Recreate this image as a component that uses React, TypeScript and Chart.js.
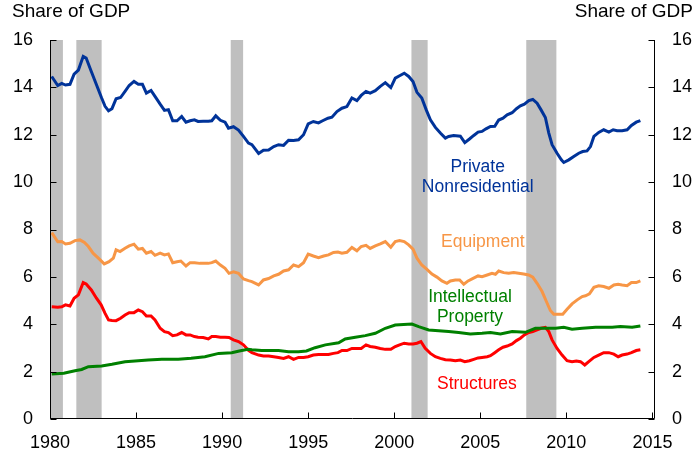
import React, { useEffect, useRef } from 'react';
import { Chart, registerables } from 'chart.js';

Chart.register(...registerables);

// ---- Data (share of GDP, %) ----
const pnrYears = [1980.1, 1980.45, 1980.68, 1980.9, 1981.16, 1981.4, 1981.65, 1981.93, 1982.1, 1982.4, 1982.7, 1983.0, 1983.2, 1983.4, 1983.6, 1983.84, 1984.1, 1984.36, 1984.6, 1984.88, 1985.13, 1985.37, 1985.6, 1985.87, 1986.1, 1986.4, 1986.65, 1986.88, 1987.13, 1987.38, 1987.65, 1987.9, 1988.14, 1988.39, 1988.6, 1988.9, 1989.2, 1989.4, 1989.63, 1989.9, 1990.17, 1990.37, 1990.66, 1990.95, 1991.24, 1991.53, 1991.73, 1992.12, 1992.4, 1992.7, 1993.0, 1993.28, 1993.57, 1993.86, 1994.15, 1994.44, 1994.73, 1995.0, 1995.3, 1995.6, 1995.84, 1996.15, 1996.38, 1996.67, 1996.96, 1997.25, 1997.54, 1997.83, 1998.08, 1998.36, 1998.6, 1998.9, 1999.19, 1999.48, 1999.8, 2000.06, 2000.31, 2000.58, 2000.84, 2001.09, 2001.32, 2001.6, 2001.86, 2002.1, 2002.39, 2002.68, 2002.97, 2003.16, 2003.45, 2003.84, 2004.1, 2004.37, 2004.62, 2004.87, 2005.1, 2005.33, 2005.59, 2005.84, 2006.07, 2006.32, 2006.56, 2006.85, 2007.1, 2007.33, 2007.56, 2007.82, 2008.05, 2008.3, 2008.53, 2008.78, 2008.98, 2009.17, 2009.46, 2009.71, 2009.85, 2010.14, 2010.43, 2010.72, 2010.95, 2011.2, 2011.4, 2011.6, 2011.88, 2012.17, 2012.47, 2012.72, 2012.95, 2013.24, 2013.53, 2013.78, 2014.06, 2014.3];
const pnrShare = [14.46, 14.08, 14.17, 14.1, 14.13, 14.56, 14.73, 15.31, 15.24, 14.67, 14.11, 13.55, 13.2, 13.01, 13.1, 13.52, 13.57, 13.83, 14.08, 14.25, 14.13, 14.13, 13.76, 13.87, 13.62, 13.29, 13.03, 13.06, 12.59, 12.59, 12.77, 12.53, 12.59, 12.63, 12.56, 12.57, 12.57, 12.59, 12.8, 12.61, 12.53, 12.28, 12.34, 12.2, 11.93, 11.65, 11.58, 11.21, 11.35, 11.36, 11.5, 11.58, 11.55, 11.77, 11.76, 11.79, 12.0, 12.46, 12.56, 12.5, 12.59, 12.7, 12.74, 12.98, 13.12, 13.19, 13.55, 13.44, 13.66, 13.83, 13.76, 13.86, 14.04, 14.2, 13.99, 14.39, 14.49, 14.6, 14.46, 14.25, 13.79, 13.55, 13.05, 12.63, 12.31, 12.07, 11.86, 11.93, 11.97, 11.94, 11.67, 11.82, 11.97, 12.11, 12.14, 12.25, 12.35, 12.36, 12.62, 12.7, 12.84, 12.93, 13.1, 13.22, 13.29, 13.44, 13.49, 13.33, 13.05, 12.73, 12.07, 11.58, 11.22, 10.94, 10.83, 10.94, 11.08, 11.22, 11.29, 11.32, 11.5, 11.93, 12.1, 12.21, 12.11, 12.21, 12.17, 12.17, 12.21, 12.39, 12.53, 12.6];

const eqYears = [1980.1, 1980.45, 1980.68, 1980.9, 1981.16, 1981.45, 1981.74, 1982.0, 1982.23, 1982.5, 1982.81, 1983.15, 1983.43, 1983.68, 1983.84, 1984.07, 1984.36, 1984.6, 1984.88, 1985.13, 1985.37, 1985.6, 1985.87, 1986.1, 1986.4, 1986.65, 1986.88, 1987.13, 1987.38, 1987.6, 1987.9, 1988.14, 1988.4, 1988.7, 1988.95, 1989.2, 1989.4, 1989.63, 1989.9, 1990.17, 1990.4, 1990.66, 1990.95, 1991.24, 1991.53, 1991.73, 1992.12, 1992.4, 1992.7, 1993.0, 1993.28, 1993.57, 1993.86, 1994.15, 1994.44, 1994.73, 1995.0, 1995.3, 1995.6, 1995.9, 1996.18, 1996.47, 1996.73, 1996.96, 1997.25, 1997.54, 1997.83, 1998.08, 1998.36, 1998.6, 1998.9, 1999.19, 1999.48, 1999.8, 2000.06, 2000.31, 2000.58, 2000.84, 2001.09, 2001.32, 2001.6, 2001.9, 2002.19, 2002.48, 2002.77, 2003.06, 2003.26, 2003.55, 2003.8, 2004.04, 2004.29, 2004.58, 2004.87, 2005.1, 2005.4, 2005.68, 2005.88, 2006.07, 2006.36, 2006.65, 2006.94, 2007.23, 2007.52, 2007.81, 2008.05, 2008.3, 2008.59, 2008.84, 2009.07, 2009.27, 2009.56, 2009.79, 2010.04, 2010.33, 2010.63, 2010.92, 2011.11, 2011.34, 2011.6, 2011.88, 2012.17, 2012.47, 2012.76, 2013.01, 2013.24, 2013.53, 2013.78, 2014.06, 2014.3];
const eqShare = [7.87, 7.48, 7.49, 7.39, 7.42, 7.53, 7.56, 7.45, 7.28, 7.0, 6.79, 6.55, 6.64, 6.79, 7.14, 7.07, 7.21, 7.31, 7.38, 7.17, 7.2, 7.0, 7.07, 6.91, 7.0, 6.93, 6.97, 6.6, 6.64, 6.67, 6.46, 6.6, 6.6, 6.57, 6.57, 6.57, 6.6, 6.67, 6.5, 6.36, 6.15, 6.21, 6.15, 5.91, 5.84, 5.8, 5.66, 5.87, 5.93, 6.04, 6.11, 6.25, 6.3, 6.5, 6.43, 6.6, 6.96, 6.88, 6.81, 6.88, 6.93, 7.03, 7.05, 7.0, 7.04, 7.24, 7.1, 7.28, 7.33, 7.2, 7.31, 7.39, 7.49, 7.25, 7.49, 7.53, 7.49, 7.35, 7.17, 6.79, 6.5, 6.32, 6.12, 5.99, 5.83, 5.73, 5.83, 5.87, 5.87, 5.69, 5.83, 5.94, 6.04, 6.01, 6.08, 6.15, 6.11, 6.25, 6.18, 6.15, 6.18, 6.15, 6.12, 6.08, 5.99, 5.73, 5.38, 4.96, 4.58, 4.42, 4.42, 4.42, 4.63, 4.86, 5.03, 5.17, 5.2, 5.28, 5.56, 5.62, 5.59, 5.52, 5.66, 5.69, 5.66, 5.63, 5.76, 5.76, 5.83];

const ipYears = [1980.1, 1980.8, 1981.45, 1981.84, 1982.23, 1983.0, 1983.6, 1984.36, 1984.94, 1985.7, 1986.5, 1987.45, 1988.2, 1989.0, 1989.8, 1990.56, 1991.0, 1991.5, 1991.73, 1992.3, 1993.28, 1993.86, 1994.44, 1994.9, 1995.4, 1996.0, 1996.77, 1997.15, 1997.74, 1998.32, 1998.9, 1999.48, 2000.06, 2001.03, 2001.42, 2002.0, 2002.58, 2003.16, 2003.74, 2004.42, 2005.1, 2005.59, 2006.17, 2006.85, 2007.62, 2008.2, 2008.78, 2009.37, 2009.85, 2010.33, 2010.92, 2011.7, 2012.66, 2013.14, 2013.82, 2014.3];
const ipShare = [1.9, 1.93, 2.04, 2.09, 2.21, 2.24, 2.31, 2.42, 2.45, 2.49, 2.52, 2.52, 2.56, 2.63, 2.77, 2.8, 2.87, 2.94, 2.92, 2.89, 2.89, 2.84, 2.84, 2.87, 3.01, 3.13, 3.22, 3.38, 3.45, 3.52, 3.62, 3.83, 3.97, 4.01, 3.9, 3.76, 3.73, 3.69, 3.65, 3.59, 3.62, 3.65, 3.59, 3.69, 3.66, 3.83, 3.83, 3.83, 3.87, 3.79, 3.83, 3.87, 3.87, 3.9, 3.87, 3.93];

const stYears = [1980.1, 1980.45, 1980.68, 1980.9, 1981.16, 1981.4, 1981.65, 1981.93, 1982.1, 1982.4, 1982.7, 1982.97, 1983.2, 1983.4, 1983.6, 1983.84, 1984.1, 1984.36, 1984.6, 1984.88, 1985.13, 1985.37, 1985.6, 1985.87, 1986.1, 1986.4, 1986.65, 1986.88, 1987.13, 1987.38, 1987.65, 1987.9, 1988.14, 1988.39, 1988.6, 1988.9, 1989.2, 1989.4, 1989.63, 1989.9, 1990.17, 1990.4, 1990.66, 1990.95, 1991.24, 1991.53, 1991.73, 1992.12, 1992.4, 1992.7, 1993.0, 1993.28, 1993.57, 1993.86, 1994.15, 1994.44, 1994.73, 1995.0, 1995.3, 1995.6, 1995.9, 1996.18, 1996.47, 1996.73, 1996.96, 1997.25, 1997.54, 1997.83, 1998.08, 1998.36, 1998.6, 1998.9, 1999.19, 1999.48, 1999.8, 2000.06, 2000.31, 2000.58, 2000.84, 2001.09, 2001.32, 2001.55, 2001.8, 2002.1, 2002.39, 2002.68, 2002.97, 2003.26, 2003.55, 2003.84, 2004.1, 2004.37, 2004.62, 2004.87, 2005.1, 2005.4, 2005.59, 2005.84, 2006.07, 2006.32, 2006.56, 2006.85, 2007.1, 2007.33, 2007.56, 2007.82, 2008.05, 2008.3, 2008.53, 2008.78, 2008.98, 2009.17, 2009.46, 2009.75, 2010.04, 2010.33, 2010.58, 2010.82, 2011.07, 2011.3, 2011.6, 2011.88, 2012.17, 2012.47, 2012.76, 2013.01, 2013.24, 2013.53, 2013.78, 2014.06, 2014.3];
const stShare = [4.74, 4.72, 4.74, 4.82, 4.77, 5.1, 5.24, 5.76, 5.7, 5.45, 5.1, 4.82, 4.46, 4.18, 4.16, 4.15, 4.25, 4.39, 4.49, 4.49, 4.6, 4.53, 4.35, 4.35, 4.18, 3.83, 3.69, 3.65, 3.52, 3.55, 3.65, 3.55, 3.55, 3.48, 3.45, 3.44, 3.38, 3.48, 3.48, 3.45, 3.45, 3.44, 3.34, 3.27, 3.13, 2.9, 2.8, 2.7, 2.66, 2.66, 2.63, 2.6, 2.56, 2.63, 2.52, 2.6, 2.6, 2.63, 2.7, 2.72, 2.72, 2.72, 2.77, 2.8, 2.89, 2.89, 2.98, 2.98, 2.98, 3.13, 3.06, 3.03, 2.98, 2.94, 2.94, 3.06, 3.13, 3.2, 3.17, 3.17, 3.2, 3.27, 2.98, 2.77, 2.63, 2.56, 2.5, 2.49, 2.46, 2.49, 2.42, 2.46, 2.52, 2.58, 2.6, 2.63, 2.67, 2.8, 2.92, 3.03, 3.08, 3.17, 3.31, 3.41, 3.55, 3.65, 3.69, 3.76, 3.83, 3.87, 3.69, 3.34, 2.98, 2.7, 2.46, 2.42, 2.45, 2.42, 2.28, 2.42, 2.6, 2.7, 2.8, 2.8, 2.74, 2.63, 2.7, 2.74, 2.8, 2.89, 2.92];

// Recession periods (start, end) in fractional years
const recessionStarts = [1980.0, 1981.53, 1990.5, 2001.0, 2007.67];
const recessionEnds = [1980.75, 1983.0, 1991.22, 2001.94, 2009.42];

const xTickValues = [1980, 1985, 1990, 1995, 2000, 2005, 2010, 2015];
const yTickValues = [0, 2, 4, 6, 8, 10, 12, 14, 16];

const seriesNames = ['Private Nonresidential', 'Equipment', 'Intellectual Property', 'Structures'];
const seriesColors = ['#003399', '#F79646', '#008000', '#FF0000'];

// in-plot series labels: text lines, anchored at (year, share)
const labelLines = [
  { text: 'Private', year: 2004.85, share: 10.65, color: '#003399' },
  { text: 'Nonresidential', year: 2004.85, share: 9.8, color: '#003399' },
  { text: 'Equipment', year: 2005.15, share: 7.45, color: '#F79646' },
  { text: 'Intellectual', year: 2004.4, share: 5.15, color: '#008000' },
  { text: 'Property', year: 2004.4, share: 4.3, color: '#008000' },
  { text: 'Structures', year: 2004.8, share: 1.45, color: '#FF0000' },
];

const FONT = '"Liberation Sans", Arial, Helvetica, sans-serif';

const toPoints = (xs: number[], ys: number[]) => xs.map((x, i) => ({ x, y: ys[i] }));

const overlayPlugin = {
  id: 'overlay',
  beforeDatasetsDraw(chart: any) {
    const { ctx, chartArea, scales } = chart;
    ctx.save();
    ctx.fillStyle = '#BFBFBF';
    recessionStarts.forEach((s, i) => {
      const x1 = scales.x.getPixelForValue(s);
      const x2 = scales.x.getPixelForValue(recessionEnds[i]);
      ctx.fillRect(x1, chartArea.top, x2 - x1, chartArea.bottom - chartArea.top);
    });
    ctx.restore();
  },
  afterDraw(chart: any) {
    const { ctx, chartArea, scales } = chart;
    const L = Math.round(chartArea.left) + 0.5;
    const R = Math.round(chartArea.right) - 0.5;
    const T = Math.round(chartArea.top);
    const B = Math.round(chartArea.bottom) - 0.5;
    ctx.save();
    ctx.strokeStyle = '#000';
    ctx.lineWidth = 1;
    ctx.beginPath();
    ctx.moveTo(L, T);
    ctx.lineTo(L, B);
    ctx.lineTo(R, B);
    ctx.lineTo(R, T);
    yTickValues.forEach((v) => {
      const py = Math.round(scales.y.getPixelForValue(v)) + 0.5;
      ctx.moveTo(L, py);
      ctx.lineTo(L + 6, py);
      ctx.moveTo(R, py);
      ctx.lineTo(R - 6, py);
    });
    xTickValues.forEach((v) => {
      const px = Math.round(scales.x.getPixelForValue(v)) + 0.5;
      ctx.moveTo(px, B);
      ctx.lineTo(px, B - 6);
    });
    ctx.stroke();

    // axis titles
    ctx.fillStyle = '#000';
    ctx.font = `19px ${FONT}`;
    ctx.textBaseline = 'alphabetic';
    ctx.textAlign = 'left';
    ctx.fillText('Share of GDP', 12, 16.5);
    ctx.textAlign = 'right';
    ctx.fillText('Share of GDP', 693, 16.5);

    // series labels
    ctx.font = `17.5px ${FONT}`;
    ctx.textAlign = 'center';
    ctx.textBaseline = 'middle';
    labelLines.forEach((l) => {
      ctx.fillStyle = l.color;
      ctx.fillText(l.text, scales.x.getPixelForValue(l.year), scales.y.getPixelForValue(l.share));
    });
    ctx.restore();
  },
};

export default function App() {
  const canvasRef = useRef<HTMLCanvasElement | null>(null);

  useEffect(() => {
    if (!canvasRef.current) return;
    Chart.defaults.font.family = FONT;
    Chart.defaults.color = '#000';

    const seriesX = [pnrYears, eqYears, ipYears, stYears];
    const seriesY = [pnrShare, eqShare, ipShare, stShare];

    const yAxisCommon = {
      type: 'linear' as const,
      min: 0,
      max: 16,
      afterBuildTicks: (scale: any) => {
        scale.ticks = yTickValues.map((v) => ({ value: v }));
      },
      grid: { display: true, drawOnChartArea: false, drawTicks: false },
      border: { display: false },
      ticks: { font: { size: 18 }, padding: 17, color: '#000' },
    };

    const chart = new Chart(canvasRef.current, {
      type: 'line',
      data: {
        datasets: seriesNames.map((name, i) => ({
          label: name,
          data: toPoints(seriesX[i], seriesY[i]),
          borderColor: seriesColors[i],
          backgroundColor: seriesColors[i],
          borderWidth: 3,
          pointRadius: 0,
          tension: 0,
          fill: false,
          yAxisID: 'y',
        })),
      },
      options: {
        animation: false,
        responsive: false,
        maintainAspectRatio: false,
        devicePixelRatio: 1,
        layout: { padding: { top: 40, left: 0, right: 0, bottom: 0 } },
        plugins: {
          legend: { display: false },
          tooltip: { enabled: false },
          title: { display: false },
        },
        scales: {
          x: {
            type: 'linear',
            min: 1980,
            max: 2015.15,
            afterBuildTicks: (scale: any) => {
              scale.ticks = xTickValues.map((v) => ({ value: v }));
            },
            afterFit: (scale: any) => {
              scale.height = 36;
            },
            grid: { display: true, drawOnChartArea: false, drawTicks: false },
            border: { display: false },
            ticks: {
              font: { size: 18 },
              padding: 13,
              color: '#000',
              maxRotation: 0,
              autoSkip: false,
              callback: (v: any) => String(v),
            },
          },
          y: {
            ...yAxisCommon,
            position: 'left',
            afterFit: (scale: any) => {
              scale.width = 50;
            },
          },
          y2: {
            ...yAxisCommon,
            position: 'right',
            afterFit: (scale: any) => {
              scale.width = 42;
            },
          },
        },
      },
      plugins: [overlayPlugin],
    } as any);

    return () => chart.destroy();
  }, []);

  return (
    <div style={{ position: 'absolute', left: 0, top: 0, width: 697, height: 455, background: '#fff' }}>
      <canvas ref={canvasRef} width={697} height={455} style={{ width: 697, height: 455, display: 'block' }} />
    </div>
  );
}
